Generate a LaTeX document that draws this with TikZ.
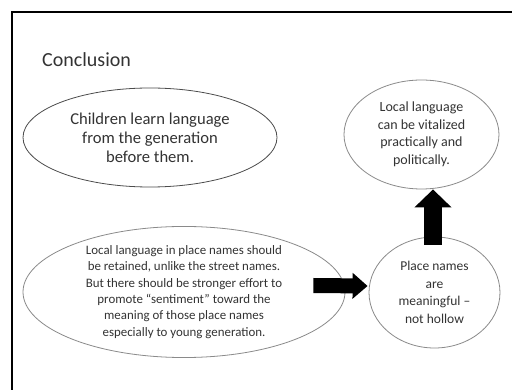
\documentclass[tikz,border=0pt]{standalone}
\usepackage{fontspec}
\setmainfont{Carlito}
\usetikzlibrary{shapes.geometric,arrows.meta,calc}
\definecolor{txt}{HTML}{333333}
\definecolor{edge}{HTML}{8A8A8A}
\tikzset{
  bubble/.style={ellipse, draw=edge, line width=0.8pt, inner sep=0pt, align=center, text=txt},
}
\begin{document}
\begin{tikzpicture}[x=1pt,y=-1pt]
\useasboundingbox (0,0) rectangle (512,390);
\clip (0,0) rectangle (512,390);
\fill[white] (0,0) rectangle (512,390);
\draw[line width=1.4pt, black] (12,12) rectangle (530,410);
\node[anchor=west, text=txt, font=\fontsize{20}{24}\selectfont, inner sep=0pt] (title) at (42,60) {Conclusion};
\node[bubble, draw=black!70, minimum width=254pt, minimum height=99pt, font=\fontsize{16.6}{19}\selectfont] (e1) at (150,137.5)
  {Children learn language\\from the generation\\before them.};
\node[bubble, minimum width=155pt, minimum height=109pt, font=\fontsize{14}{17.5}\selectfont] (e2) at (421.5,134.5)
  {Local language\\can be vitalized\\practically and\\politically.};
\node[bubble, minimum width=322pt, minimum height=126pt, font=\fontsize{12.9}{16.3}\selectfont] (e3) at (184,292)
  {Local language in place names should\\be retained, unlike the street names.\\But there should be stronger effort to\\promote ``sentiment'' toward the\\meaning of those place names\\especially to young generation.};
\node[bubble, minimum width=131pt, minimum height=111pt, font=\fontsize{13.5}{17.5}\selectfont] (e4) at (434.5,292.5)
  {Place names\\are\\meaningful --\\not hollow};
\coordinate (ra) at ($(e3.east)+(-32,-6.5)$);
\coordinate (rb) at ($(e4.west)+(-1,-6.5)$);
\draw[line width=15pt, -{Triangle[length=15pt, width=25pt]}] (ra) -- (rb);
\coordinate (ua) at ($(e4.north)+(-1.5,8)$);
\draw[line width=18pt, -{Triangle[length=18pt, width=36pt]}] (ua) -- (ua |- e2.south);
\end{tikzpicture}
\end{document}
